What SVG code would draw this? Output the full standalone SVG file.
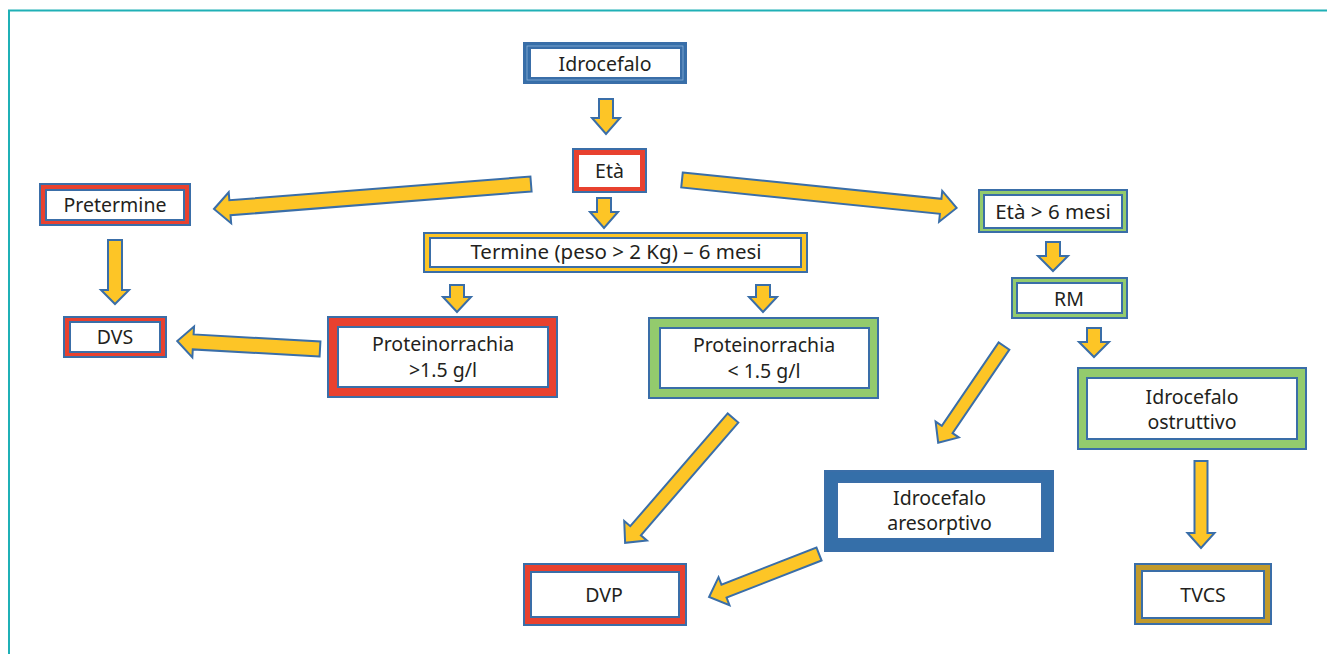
<svg xmlns="http://www.w3.org/2000/svg" width="1327" height="654" viewBox="0 0 1327 654">
  <defs>
    <style>
      .frame { stroke: #1fb0b6; stroke-width: 2; fill: none; }
      .outer { stroke: #3a6ea8; stroke-width: 2; }
      .inner { fill: #ffffff; stroke: #3a6ea8; stroke-width: 2; }
      .blue { fill: #356fa9; }
      .red { fill: #e8412f; }
      .green { fill: #93cb6d; }
      .yellow { fill: #fcc526; }
      .gold { fill: #c19a2b; }
      .arrow { fill: #fdc526; stroke: #3a6ea8; stroke-width: 2; stroke-linejoin: miter; }
      text { font-family: "Noto Sans", "Liberation Sans", sans-serif; font-size: 19.5px; fill: #231f20; text-anchor: middle; }
      .wide { font-size: 20.5px; }
    </style>
  </defs>

  <!-- page frame -->
  <path class="frame" d="M9,654 V10.5 H1327"/>

  <!-- connectors: block arrows -->
  <g id="connectors">
    <polygon class="arrow" transform="translate(606,99) rotate(90)" points="0,-7 19,-7 19,-14 35,0 19,14 19,7 0,7"/>
    <polygon class="arrow" transform="translate(604,198) rotate(90)" points="0,-7 14,-7 14,-14 30,0 14,14 14,7 0,7"/>
    <polygon class="arrow" transform="translate(531,184) rotate(175.49)" points="0,-7.5 302,-7.5 302,-15.5 318,0 302,15.5 302,7.5 0,7.5"/>
    <polygon class="arrow" transform="translate(682,180) rotate(5.81)" points="0,-7.5 260,-7.5 260,-15.5 276,0 260,15.5 260,7.5 0,7.5"/>
    <polygon class="arrow" transform="translate(115,240) rotate(90)" points="0,-7 50,-7 50,-14 64,0 50,14 50,7 0,7"/>
    <polygon class="arrow" transform="translate(457,285) rotate(90)" points="0,-7 12,-7 12,-14 27,0 12,14 12,7 0,7"/>
    <polygon class="arrow" transform="translate(763,285) rotate(90)" points="0,-7 12,-7 12,-14 27,0 12,14 12,7 0,7"/>
    <polygon class="arrow" transform="translate(320,349) rotate(183.2)" points="0,-7.5 127,-7.5 127,-15.5 143,0 127,15.5 127,7.5 0,7.5"/>
    <polygon class="arrow" transform="translate(733,418) rotate(130.83)" points="0,-7 149,-7 149,-15 165,0 149,15 149,7 0,7"/>
    <polygon class="arrow" transform="translate(1053,242) rotate(90)" points="0,-7 14,-7 14,-15 29,0 14,15 14,7 0,7"/>
    <polygon class="arrow" transform="translate(1004,346) rotate(124.23)" points="0,-6.5 101,-6.5 101,-14 117,0 101,14 101,6.5 0,6.5"/>
    <polygon class="arrow" transform="translate(1094,328) rotate(90)" points="0,-7 14,-7 14,-15 29,0 14,15 14,7 0,7"/>
    <polygon class="arrow" transform="translate(1201,461) rotate(90)" points="0,-6.5 72,-6.5 72,-13.5 87,0 72,13.5 72,6.5 0,6.5"/>
    <polygon class="arrow" transform="translate(819,554) rotate(158.65)" points="0,-7 102,-7 102,-15 118,0 102,15 102,7 0,7"/>
  </g>

  <!-- nodes -->
  <g id="n-idrocefalo">
    <rect class="outer blue" x="524" y="43" width="162" height="40"/>
    <rect x="527" y="46" width="156" height="34" fill="none" stroke="#8fb0d6" stroke-width="0.8"/>
    <rect class="inner" x="530" y="48" width="151" height="30"/>
    <text x="605" y="70.5">Idrocefalo</text>
  </g>

  <g id="n-eta">
    <rect class="outer red" x="573" y="149" width="73" height="43"/>
    <rect class="inner" x="578" y="154" width="63" height="34" style="stroke:#e8412f"/>
    <text x="609.5" y="177.5">Età</text>
  </g>

  <g id="n-pretermine">
    <rect class="outer red" x="40" y="184" width="150" height="41"/>
    <rect class="inner" x="46" y="190" width="138" height="30"/>
    <text x="115" y="212">Pretermine</text>
  </g>

  <g id="n-dvs">
    <rect class="outer red" x="64" y="317" width="102" height="40"/>
    <rect class="inner" x="70" y="322" width="90" height="30"/>
    <text x="115" y="344">DVS</text>
  </g>

  <g id="n-termine">
    <rect class="outer yellow" x="424" y="233" width="383" height="39"/>
    <rect class="inner" x="430" y="238" width="371" height="29"/>
    <text class="wide" x="616" y="259">Termine (peso &gt; 2 Kg) – 6 mesi</text>
  </g>

  <g id="n-prot-alta">
    <rect class="outer red" x="328" y="317" width="229" height="80"/>
    <rect class="inner" x="338" y="327" width="210" height="60"/>
    <text x="443" y="351">Proteinorrachia</text>
    <text x="443" y="377">&gt;1.5 g/l</text>
  </g>

  <g id="n-prot-bassa">
    <rect class="outer green" x="649" y="318" width="229" height="80"/>
    <rect class="inner" x="660" y="328" width="209" height="60"/>
    <text x="764" y="352">Proteinorrachia</text>
    <text x="764" y="378">&lt; 1.5 g/l</text>
  </g>

  <g id="n-eta-6">
    <rect class="outer green" x="979" y="190" width="148" height="42"/>
    <rect class="inner" x="984" y="195" width="138" height="33"/>
    <text class="wide" x="1053" y="218.5">Età &gt; 6 mesi</text>
  </g>

  <g id="n-rm">
    <rect class="outer green" x="1012" y="278" width="115" height="40"/>
    <rect class="inner" x="1017" y="283" width="105" height="30"/>
    <text x="1069" y="305.5">RM</text>
  </g>

  <g id="n-ostruttivo">
    <rect class="outer green" x="1078" y="368" width="228" height="81"/>
    <rect class="inner" x="1087" y="378" width="210" height="61"/>
    <text x="1192" y="404">Idrocefalo</text>
    <text x="1192" y="429">ostruttivo</text>
  </g>

  <g id="n-aresorptivo">
    <rect class="outer blue" x="825" y="471" width="228" height="80"/>
    <rect class="inner" x="837" y="482" width="205" height="57"/>
    <text x="939.5" y="504.5">Idrocefalo</text>
    <text x="939.5" y="530">aresorptivo</text>
  </g>

  <g id="n-dvp">
    <rect class="outer red" x="524" y="564" width="162" height="61"/>
    <rect class="inner" x="531" y="572" width="148" height="45"/>
    <text x="604" y="601.5">DVP</text>
  </g>

  <g id="n-tvcs">
    <rect class="outer gold" x="1135" y="564" width="136" height="60"/>
    <rect class="inner" x="1142" y="571" width="122" height="47"/>
    <text x="1203" y="601.5">TVCS</text>
  </g>
</svg>
